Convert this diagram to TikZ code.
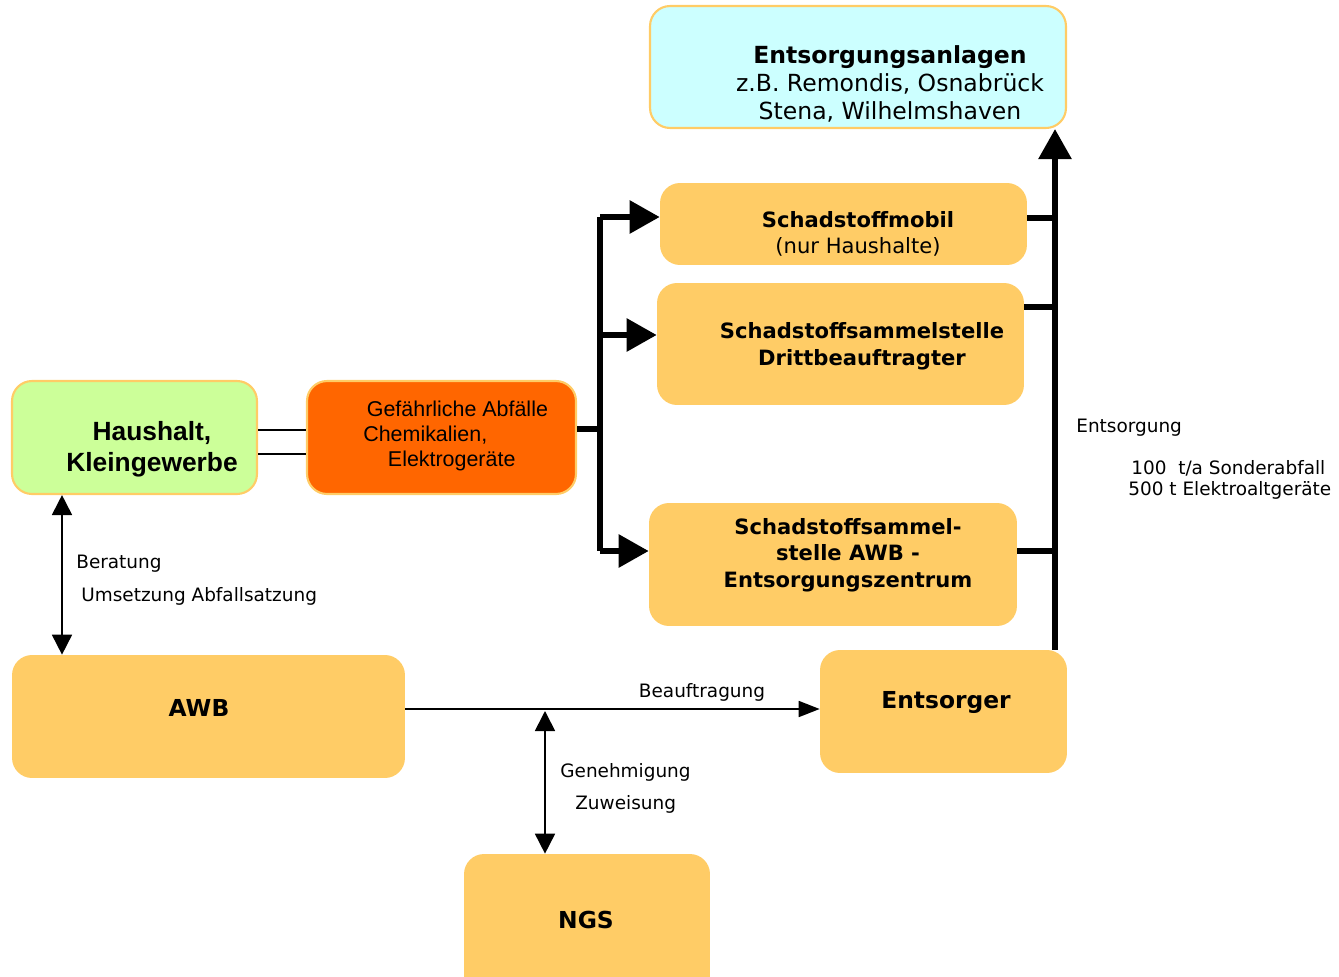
\documentclass[tikz,border=0pt]{standalone}
\usepackage{fontspec}
\setmainfont{DejaVu Sans}
\newfontfamily\arialfont{Liberation Sans}
\usetikzlibrary{arrows,arrows.meta}
\definecolor{box_orange}{RGB}{255,204,102}
\definecolor{box_green}{RGB}{204,255,153}
\definecolor{box_cyan}{RGB}{204,255,255}
\definecolor{box_red}{RGB}{255,102,0}

\begin{document}
\begin{tikzpicture}[x=0.02cm,y=-0.02cm]
    \tikzstyle{box}=[rounded corners=0.4cm, fill=box_orange, draw=none, inner sep=0pt]
    \tikzstyle{rimbox}=[box, draw=box_orange, line width=1.2pt]
    \tikzstyle{bus}=[line width=3.3pt]
    \tikzstyle{bigtip}=[-{Triangle[length=0.6cm,width=0.64cm]}]
    \tikzstyle{link}=[line width=1pt]
    \tikzstyle{linktip}=[link, -{Triangle[length=0.42cm,width=0.32cm]}]
    \tikzstyle{twotip}=[link, {Triangle[length=0.4cm,width=0.4cm]}-{Triangle[length=0.4cm,width=0.4cm]}]
    \tikzstyle{boxtxt}=[align=center, font=\fontsize{12}{15.2}\selectfont\bfseries]
    \tikzstyle{bigtxt}=[font=\fontsize{13.3}{16}\selectfont\bfseries]
    \tikzstyle{note}=[inner sep=0pt, font=\fontsize{10.5}{12}\selectfont]

    \useasboundingbox (0,0) rectangle (1339,977);

    % boxes
    \node[rimbox, fill=box_cyan, minimum width=8.32cm, minimum height=2.44cm] (anl) at (858,67) {};
    \node[box, minimum width=7.34cm, minimum height=1.64cm] (mobil) at (843.5,224) {};
    \node[box, minimum width=7.34cm, minimum height=2.44cm] (dritt) at (840.5,344) {};
    \node[box, minimum width=7.36cm, minimum height=2.46cm] (awbz) at (833,564.5) {};
    \node[rimbox, fill=box_green, minimum width=4.9cm, minimum height=2.26cm] (haus) at (134.5,437.5) {};
    \node[rimbox, fill=box_red, minimum width=5.38cm, minimum height=2.26cm] (gef) at (441.5,437.5) {};
    \node[box, minimum width=7.86cm, minimum height=2.46cm] (awb) at (208.5,716.5) {};
    \node[box, minimum width=4.94cm, minimum height=2.46cm] (ents) at (943.5,711.5) {};
    \node[box, minimum width=4.92cm, minimum height=2.92cm] (ngs) at (587,927) {};

    % texts in the boxes
    \node[align=center, font=\fontsize{13.4}{16}\selectfont] (anltxt) at (890,84)
        {\textbf{Entsorgungsanlagen}\\z.B. Remondis, Osnabrück\\Stena, Wilhelmshaven};
    \node[boxtxt] (mobiltxt) at (858,234) {Schadstoffmobil\\\mdseries(nur Haushalte)};
    \node[boxtxt] (dritttxt) at (862,346) {Schadstoffsammelstelle\\Drittbeauftragter};
    \node[boxtxt] (awbztxt) at (848,555) {Schadstoffsammel-\\stelle AWB -\\Entsorgungszentrum};
    \node[align=center, font=\arialfont\fontsize{15}{17.6}\selectfont\bfseries] (haustxt) at (152,449.5)
        {Haushalt,\\Kleingewerbe};
    \node[align=left, anchor=west, inner sep=0pt, font=\arialfont\fontsize{12.2}{14.2}\selectfont] (geftxt) at (363,436)
        {\hspace{2pt}Gefährliche Abfälle\\Chemikalien,\\\hspace{14pt}Elektrogeräte};
    \node[bigtxt] (awbtxt) at (199,708) {AWB};
    \node[bigtxt] (entstxt) at (946,702) {Entsorger};
    \node[bigtxt] (ngstxt) at (586,920) {NGS};

    % free labels
    \node[note] (beauf) at (702,692) {Beauftragung};
    \node[note, anchor=west] (gen) at (560,772) {Genehmigung};
    \node[note, anchor=west] (zuw) at (575,804) {Zuweisung};
    \node[note, anchor=west] (berat) at (76,564) {Beratung};
    \node[note, anchor=west] (umset) at (81,596) {Umsetzung Abfallsatzung};
    \node[note, anchor=west] (entsg) at (1076,428) {Entsorgung};
    \node[note, anchor=west] (sonder) at (1131,468) {100\ \ t/a Sonderabfall};
    \node[note, anchor=west] (elektro) at (1128,490) {500 t Elektroaltgeräte};

    % junctions
    \coordinate (busT) at (600,217);
    \coordinate (busM) at (600,429);
    \coordinate (busD) at (600,335);
    \coordinate (busB) at (600,551);
    \coordinate (rbus) at (1055,400);
    \coordinate (cross) at (545,711);
    \coordinate (left) at (62,500);

    \path
     ([yshift=0.15cm]haus.east) edge[link] ([yshift=0.15cm]haus.east -| gef.west)
     ([yshift=-0.33cm]haus.east) edge[link] ([yshift=-0.33cm]haus.east -| gef.west)
     (gef.east |- busM) edge[bus] (busM)
     (busT) edge[bus] (busB)
     (busT) edge[bus, bigtip] (mobil.west |- busT)
     (busD) edge[bus, bigtip] (dritt.west |- busD)
     (busB) edge[bus, bigtip] (awbz.west |- busB)
     (ents.north -| rbus) edge[bus, bigtip] (anl.south -| rbus)
     ([yshift=0.12cm]mobil.east) edge[bus] ([yshift=0.12cm]mobil.east -| rbus)
     ([yshift=0.74cm]dritt.east) edge[bus] ([yshift=0.74cm]dritt.east -| rbus)
     ([yshift=0.27cm]awbz.east) edge[bus] ([yshift=0.27cm]awbz.east -| rbus)
     ([yshift=0.15cm]awb.east) edge[linktip] ([yshift=0.15cm]awb.east -| ents.west)
     (cross) edge[twotip] (ngs.north -| cross)
     (haus.south -| left) edge[twotip] (awb.north -| left)
     ;
\end{tikzpicture}
\end{document}
